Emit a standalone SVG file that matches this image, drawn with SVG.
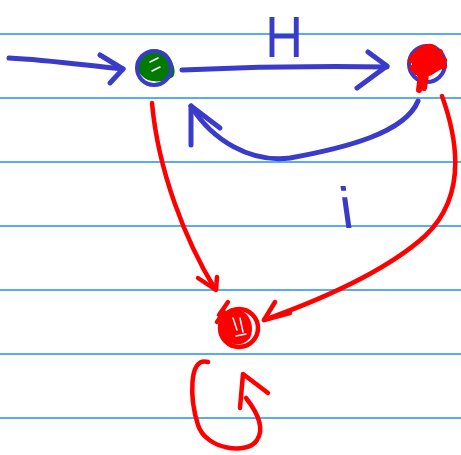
<svg xmlns="http://www.w3.org/2000/svg" width="461" height="455" viewBox="0 0 461 455">
<style>
.rule{stroke:#5aaaf5;stroke-width:2}
.b{fill:none;stroke:#3a3acb;stroke-width:5;stroke-linecap:round;stroke-linejoin:round}
.r{fill:none;stroke:#ff0000;stroke-width:4.5;stroke-linecap:round;stroke-linejoin:round}
.lbl{font-family:"Liberation Sans",Arial,sans-serif;fill:#3a3acb}
</style>
<rect width="461" height="455" fill="#ffffff"/>
<g id="paper">
<line class="rule" x1="0" y1="34" x2="461" y2="34"/>
<line class="rule" x1="0" y1="98" x2="461" y2="98"/>
<line class="rule" x1="0" y1="162" x2="461" y2="162"/>
<line class="rule" x1="0" y1="226" x2="461" y2="226"/>
<line class="rule" x1="0" y1="290" x2="461" y2="290"/>
<line class="rule" x1="0" y1="354" x2="461" y2="354"/>
<line class="rule" x1="0" y1="418" x2="461" y2="418"/>
</g>
<g id="connectors">
<path class="b" d="M9,58 C50,60 90,66 123,69"/>
<path class="b" d="M100,55 L123,69 L110,83"/>
<path class="b" d="M182,70 C250,67 320,66 387,67"/>
<path class="b" d="M368,52 L387,66 L357,88"/>
<path class="b" d="M418,101 C405,133 345,148 290,158 C250,163 212,140 191,106"/>
<path class="b" d="M191,145 L191,106 L220,128"/>
<path class="r" d="M152,103 C158,170 185,240 215,289"/>
<path class="r" d="M198,278 L216,290 L217,277"/>
<path class="r" d="M442,96 C465,160 458,205 425,236 C385,272 320,300 264,320"/>
<path class="r" d="M275,302 L264,320 L290,313"/>
<path class="r" d="M208,362 C188,356 190,400 198,425 C206,450 248,455 257,440 C265,428 257,412 246,398"/>
<path class="r" d="M240,408 L243,374 L268,393"/>
</g>
<g id="node-start">
<path d="M139,58 C145,49 160,47 167,54 C173,61 177,72 173,77 C165,82 150,84 142,76 C136,70 136,63 139,58 Z" fill="#007a00"/>
<path d="M150,62 L158,58 M152,71 L160,67" stroke="#ffffff" stroke-width="1.5" stroke-linecap="round"/>
<circle cx="154" cy="68" r="17" fill="none" stroke="#3a3acb" stroke-width="4"/>
</g>
<g id="node-right">
<circle cx="427" cy="64" r="18" fill="none" stroke="#3a3acb" stroke-width="4"/>
<path d="M411,60 C418,50 428,44 434,48 M412,68 L440,52 M416,72 L444,60 M420,75 C428,70 438,66 444,66 M423,60 L419,90 M428,60 L424,88" stroke="#ff0000" stroke-width="6" stroke-linecap="round" fill="none"/>
<path d="M410,56 C420,46 432,44 438,50 L445,58 L443,68 L430,76 L414,72 Z" fill="#ff0000"/>
</g>
<g id="node-bottom">
<circle cx="239" cy="328" r="19" fill="none" stroke="#ff0000" stroke-width="4.5"/>
<path d="M221,318 C226,310 236,308 244,312 C252,318 254,330 250,338 C244,346 232,346 226,340 C220,334 218,326 221,318 Z" fill="#ff0000"/>
<path d="M219,315 L228,302 M217,322 L224,312" stroke="#ff0000" stroke-width="4.5" stroke-linecap="round"/>
<path d="M233,318 L237,330 M240,318 L243,332 M236,336 L246,334" stroke="#ffffff" stroke-width="1.5" stroke-linecap="round"/>
</g>
<g id="labels">
<text class="lbl" x="284" y="57" font-size="58" text-anchor="middle" transform="translate(284,35) scale(0.9,1) translate(-284,-35)">H</text>
<text class="lbl" x="348" y="228" font-size="58" text-anchor="middle" transform="skewX(8) translate(-31,0)">i</text>
</g>
</svg>
